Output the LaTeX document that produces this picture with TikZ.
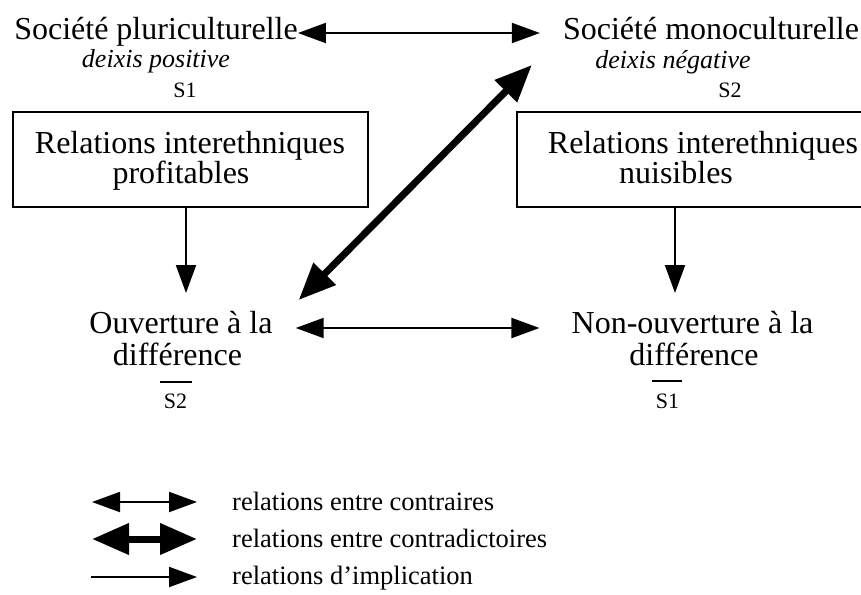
\documentclass[tikz,border=0pt]{standalone}
\usepackage{fontspec}
\setmainfont{Liberation Serif}
\usetikzlibrary{arrows.meta}
\begin{document}
\begin{tikzpicture}[x=1pt,y=-1pt,
  big/.style={font=\fontsize{32}{27}\selectfont, inner sep=0pt, anchor=base},
  deixis/.style={font=\fontsize{26}{26}\selectfont\itshape, inner sep=0pt, anchor=base},
  tag/.style={font=\fontsize{22}{22}\selectfont, inner sep=0pt, anchor=base},
  legendtext/.style={font=\fontsize{26.5}{26}\selectfont, inner sep=0pt, anchor=base west},
  framebox/.style={draw, line width=2pt, minimum width=355pt, minimum height=95pt, inner sep=0pt},
  contraire/.style={line width=2pt, {Triangle[length=28pt,width=20pt]}-{Triangle[length=28pt,width=20pt]}},
  contradict/.style={line width=7pt, {Triangle[length=37pt,width=30pt]}-{Triangle[length=37pt,width=30pt]}},
  implic/.style={line width=2pt, -{Triangle[length=28pt,width=20pt]}},
  bar/.style={line width=2pt}
]
\useasboundingbox (0,0) rectangle (861,594);

% upper corners of the square
\node[big] (sp) at (156,40) {Société pluriculturelle};
\node[deixis] (dp) at (156,67) {deixis positive};
\node[tag] (s1) at (185,97) {S1};
\node[big] (sm) at (711,40) {Société monoculturelle};
\node[deixis] (dn) at (673,68) {deixis négative};
\node[tag] (s2) at (730,97) {S2};

% framed relations
\node[framebox] (lbox) at (190.5,159.5) {};
\node[big] (lb1) at (190,153) {Relations interethniques};
\node[big] (lb2) at (181,183) {profitables};
\node[framebox] (rbox) at (694.5,159.5) {};
\node[big] (rb1) at (703,153) {Relations interethniques};
\node[big] (rb2) at (676,183) {nuisibles};

% lower corners of the square
\node[big] (ov1) at (181,333) {Ouverture à la};
\node[big] (ov2) at (177.5,365) {différence};
\node[tag] (ns2) at (175.5,408) {S2};
\node[big] (nov1) at (692.5,333) {Non-ouverture à la};
\node[big] (nov2) at (694,365) {différence};
\node[tag] (ns1) at (667.5,408) {S1};
\draw[bar] ([xshift=-15.5pt,yshift=26pt]ns2.base) -- ([xshift=16.5pt,yshift=26pt]ns2.base);
\draw[bar] ([xshift=-15.5pt,yshift=27pt]ns1.base) -- ([xshift=14.5pt,yshift=27pt]ns1.base);

% relations
\draw[contraire] ([yshift=7pt]sp.base east) -- ([xshift=-23pt,yshift=7pt]sm.base west);
\draw[contraire] ([xshift=23pt,yshift=5pt]ov1.base east) -- ([xshift=-32pt,yshift=5pt]nov1.base west);
\draw[contradict] ([xshift=26pt,yshift=33pt]ov1.base east) -- ([xshift=-31pt,yshift=-25pt]sm.base west);
\draw[implic] ([xshift=-4.5pt]lbox.south) -- ([xshift=5pt,yshift=40pt]ov1.base);
\draw[implic] ([xshift=-19.5pt]rbox.south) -- ([xshift=-17.5pt,yshift=40pt]nov1.base);

% legend
\node[legendtext] (l1) at (232,510) {relations entre contraires};
\node[legendtext] (l2) at (232,547) {relations entre contradictoires};
\node[legendtext] (l3) at (232,584) {relations d’implication};
\draw[contraire] ([xshift=-140pt,yshift=8pt]l1.base west) -- ([xshift=-35pt,yshift=8pt]l1.base west);
\draw[contradict] ([xshift=-140pt,yshift=8pt]l2.base west) -- ([xshift=-35pt,yshift=8pt]l2.base west);
\draw[implic] ([xshift=-141pt,yshift=7pt]l3.base west) -- ([xshift=-35pt,yshift=7pt]l3.base west);
\end{tikzpicture}
\end{document}
